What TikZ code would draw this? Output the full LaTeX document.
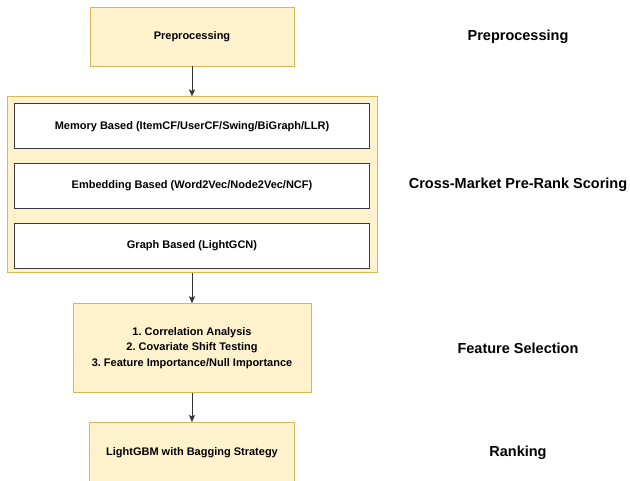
\documentclass[tikz,border=0pt]{standalone}
\usepackage{fontspec}
\setmainfont{Liberation Sans}
\usetikzlibrary{positioning,arrows.meta}
\frenchspacing
\definecolor{stagefill}{HTML}{FFF2CC}
\definecolor{stageline}{HTML}{D6B656}
\definecolor{boxline}{HTML}{36393D}
\tikzset{
    stage/.style={
        rectangle,
        draw=stageline,
        fill=stagefill,
        line width=0.8pt,
        text centered,
        font=\fontsize{11}{15.5}\selectfont\bfseries
    },
    method/.style={
        rectangle,
        draw=boxline,
        fill=white,
        line width=0.8pt,
        minimum width=355pt,
        minimum height=45pt,
        text centered,
        font=\fontsize{11}{15.5}\selectfont\bfseries
    },
    phase/.style={
        font=\fontsize{14.5}{17}\selectfont\bfseries
    },
    arrow/.style={
        draw=black!80,
        line width=0.8pt,
        -{Stealth[length=7pt,width=6pt,inset=1.5pt]}
    }
}

\begin{document}
\begin{tikzpicture}[x=1pt,y=-1pt]
    \useasboundingbox (0,0) rectangle (630,481);
    \node (prep) [stage, minimum width=204pt, minimum height=59pt] at (192,36.5) {Preprocessing};
    \node (scoring) [stage, minimum width=370pt, minimum height=176pt, below=30pt of prep] {};
    \node (memory) [method, below=7pt of scoring.north] {Memory Based (ItemCF/UserCF/Swing/BiGraph/LLR)};
    \node (embedding) [method, below=14pt of memory] {Embedding Based (Word2Vec/Node2Vec/NCF)};
    \node (graph) [method, below=14pt of embedding] {Graph Based (LightGCN)};
    \node (featsel) [stage, minimum width=238pt, minimum height=89pt, below=30pt of scoring, align=center] {1. Correlation Analysis\\2. Covariate Shift Testing\\3. Feature Importance/Null Importance};
    \node (ranking) [stage, minimum width=205pt, minimum height=60pt, below=29pt of featsel] {LightGBM with Bagging Strategy};
    % stage labels on the right
    \coordinate (labx) at (518,0);
    \node (lblprep) [phase] at (prep -| labx) {Preprocessing};
    \node (lblscoring) [phase] at (scoring -| labx) {Cross-Market Pre-Rank Scoring};
    \node (lblfeat) [phase] at (featsel -| labx) {Feature Selection};
    \node (lblrank) [phase] at (ranking -| labx) {Ranking};
    \draw [arrow] (prep) -- (scoring);
    \draw [arrow] (scoring) -- (featsel);
    \draw [arrow] (featsel) -- (ranking);
\end{tikzpicture}
\end{document}
